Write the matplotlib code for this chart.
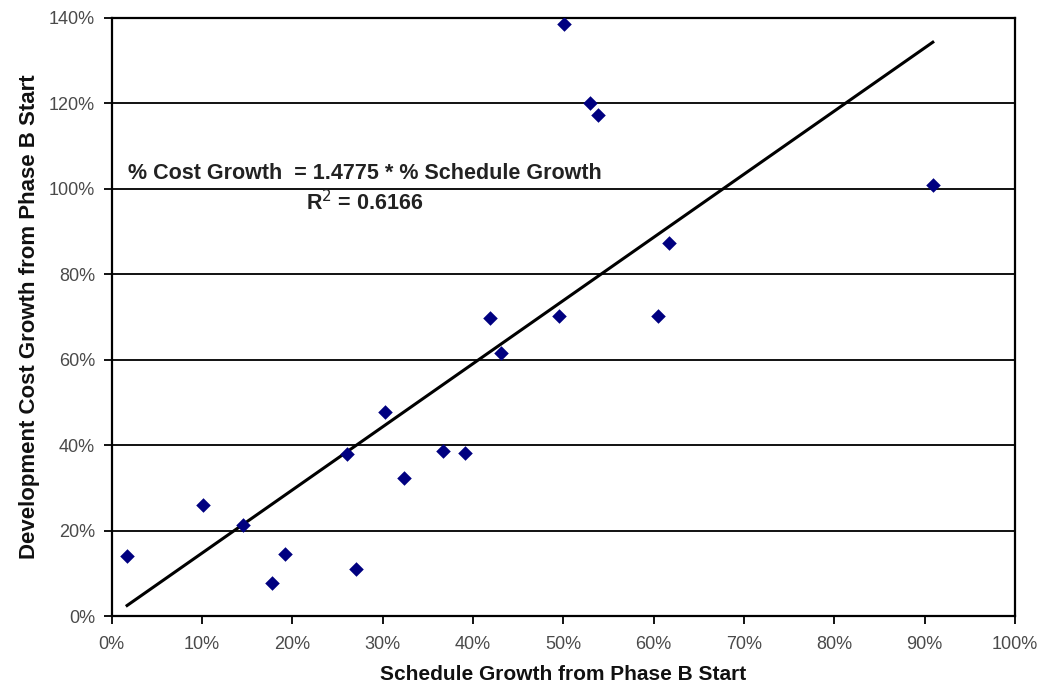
import matplotlib.pyplot as plt
import numpy as np
from matplotlib.ticker import PercentFormatter

plt.rcParams['font.family'] = ['Liberation Sans', 'DejaVu Sans']

# schedule growth (%) and development cost growth (%)
schedule_growth = [1.7, 10.1, 14.5, 17.7, 19.2, 26.0, 27.0, 30.2, 32.4, 36.7,
                   39.1, 41.9, 43.1, 49.5, 50.1, 53.0, 53.8, 60.5, 61.7, 90.9]
cost_growth = [14.0, 26.0, 21.3, 7.7, 14.5, 37.9, 11.0, 47.8, 32.3, 38.6,
               38.2, 69.8, 61.6, 70.2, 138.6, 120.1, 117.3, 70.2, 87.3, 100.9]
slope = 1.4775
r_squared = 0.6166

fig, ax = plt.subplots(figsize=(10.54, 6.87), dpi=100)
fig.subplots_adjust(left=0.106, right=0.963, top=0.974, bottom=0.103)

for y in np.arange(20, 141, 20):
    ax.axhline(y, color="#111111", lw=1.4, zorder=1)

ax.scatter(schedule_growth, cost_growth, marker="D", s=55, color="#000080",
           zorder=3, linewidths=0)

x_fit = np.array([min(schedule_growth), max(schedule_growth)])
ax.plot(x_fit, slope * x_fit, color="black", lw=2.2, zorder=2)

ax.text(28, 103.7, "% Cost Growth  = " + f"{slope:.4f}" + " * % Schedule Growth",
        ha="center", va="center", fontsize=15.5, fontweight="bold", color="#222222")
ax.text(28, 96.8, "R$^2$ = " + f"{r_squared:.4f}", ha="center", va="center",
        fontsize=15.5, fontweight="bold", color="#222222")

ax.set_xlim(0, 100)
ax.set_ylim(0, 140)
ax.set_xticks(np.arange(0, 101, 10))
ax.set_yticks(np.arange(0, 141, 20))
ax.xaxis.set_major_formatter(PercentFormatter(decimals=0))
ax.yaxis.set_major_formatter(PercentFormatter(decimals=0))
ax.tick_params(direction="out", length=6, width=1.3, labelsize=13, labelcolor="#4a4a4a")
ax.tick_params(axis="x", pad=8)
ax.tick_params(axis="y", pad=6)
for s in ax.spines.values():
    s.set_linewidth(1.6)

ax.set_xlabel("Schedule Growth from Phase B Start", fontsize=15, fontweight="bold",
              color="#111111", labelpad=9)
ax.set_ylabel("Development Cost Growth from Phase B Start", fontsize=16,
              fontweight="bold", color="#111111", labelpad=6)

fig.savefig("out.png", dpi=100)
